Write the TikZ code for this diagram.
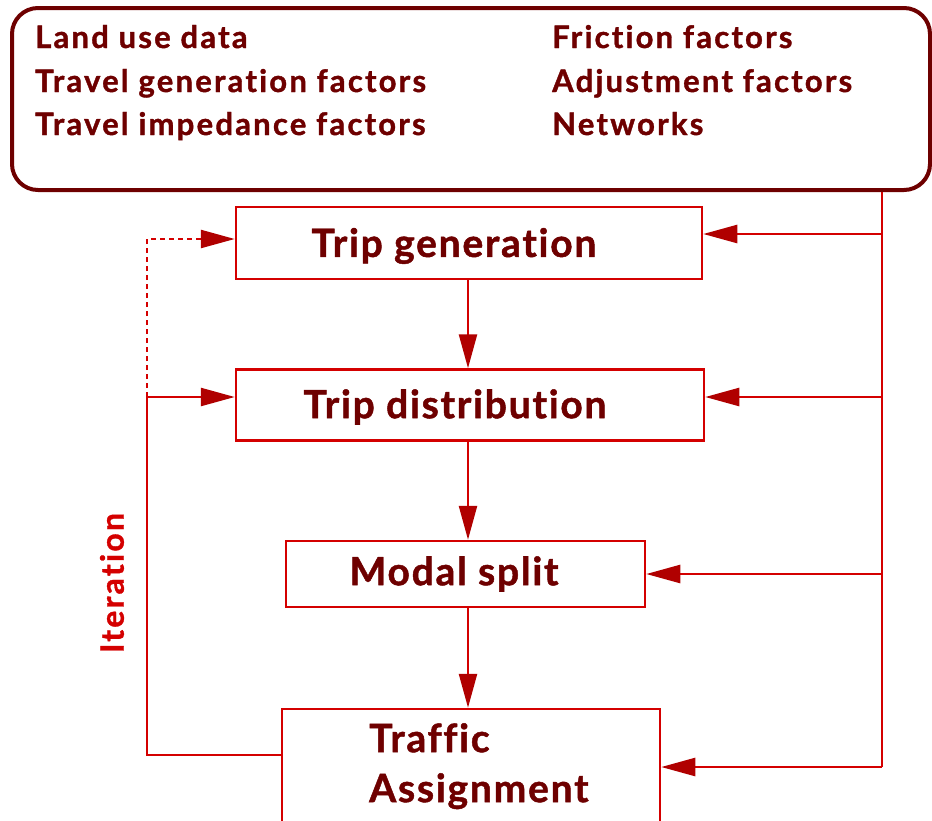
\documentclass[tikz,border=0pt]{standalone}
\usepackage{fontspec}
\setmainfont{Lato}
\newfontfamily\panelfont{Lato}[LetterSpace=7.2, Ligatures=NoCommon, BoldFeatures={FakeBold=1.2}]
\newfontfamily\stagefont{Lato}[LetterSpace=4.5, Ligatures=NoCommon, BoldFeatures={FakeBold=1.2}]
\newfontfamily\loopfont{Lato}[LetterSpace=7, Ligatures=NoCommon, BoldFeatures={FakeBold=1}]
\usetikzlibrary{arrows.meta,calc}

\definecolor{maroon}{HTML}{6E0000}
\definecolor{linered}{HTML}{D40000}
\definecolor{tipred}{HTML}{B00000}

\tikzset{
  infobox/.style={draw=maroon, line width=4pt, rounded corners=26pt, inner sep=0pt},
  stagebox/.style={draw=linered, line width=2.5pt, inner sep=0pt},
  flow/.style={draw=linered, line width=2.5pt},
  flowarrow/.style={flow, -{Triangle[length=34pt,width=18pt,fill=tipred,color=tipred]}},
  inputtext/.style={text=maroon, font=\panelfont\bfseries\fontsize{31}{36}\selectfont, anchor=base west, inner sep=0pt},
  stagetext/.style={text=maroon, font=\stagefont\bfseries\fontsize{39}{50}\selectfont, inner sep=0pt},
}

\begin{document}
\begin{tikzpicture}[x=1pt,y=-1pt]
\useasboundingbox (0,0) rectangle (932,820);

% input data panel
\node[infobox, minimum width=918pt, minimum height=182pt] (inputs) at (471,99) {};
\node[inputtext] (t1) at (35,48) {Land use data};
\node[inputtext] (t2) at (35,92) {Travel generation factors};
\node[inputtext] (t3) at (35,135) {Travel impedance factors};
\node[inputtext] (t4) at (552,48) {Friction factors};
\node[inputtext] (t5) at (552,92) {Adjustment factors};
\node[inputtext] (t6) at (552,135) {Networks};

% model stages
\node[stagebox, minimum width=466pt, minimum height=72pt] (tg) at (469,243) {};
\node[stagetext] (tgl) at (454,246) {Trip generation};
\node[stagebox, minimum width=468pt, minimum height=71pt] (td) at (470,405) {};
\node[stagetext] (tdl) at (455,407) {Trip distribution};
\node[stagebox, minimum width=359pt, minimum height=66pt] (ms) at (465.5,574) {};
\node[stagetext] (msl) at (454,574) {Modal split};
\node[stagebox, minimum width=378pt, minimum height=140pt] (ta) at (471,779) {};
\node[stagetext, align=left, anchor=north west] (tal) at (369,723) {Traffic\\Assignment};

% sequential flow
\draw[flowarrow] (tg.south -| 468,0) -- (td.north -| 468,0);
\draw[flowarrow] (td.south -| 468,0) -- (ms.north -| 468,0);
\draw[flowarrow] (ms.south -| 468,0) -- (ta.north -| 468,0);

% input data bus on the right
\coordinate (bustop) at (inputs.south -| 882,0);
\coordinate (busend) at (882,767);
\draw[flow] (bustop) -- (busend);
\draw[flowarrow] (882,234) -- (tg.east |- 0,234);
\draw[flowarrow] (882,397) -- (td.east |- 0,397);
\draw[flowarrow] (ms.east -| bustop) -- (ms.east);
\draw[flowarrow] (busend) -- (ta.east |- busend);

% iteration loop
\coordinate (loopbot) at (147,755);
\coordinate (loopmid) at (147,397);
\coordinate (looptop) at (147,239);
\draw[flow] (ta.west |- loopbot) -- (loopbot) -- (loopmid);
\draw[flowarrow] (loopmid) -- (td.west |- loopmid);
\draw[flow, line width=2.2pt, dash pattern=on 5pt off 4pt] (loopmid) -- (looptop) -- ($(looptop)+(50,0)$);
\draw[flowarrow] ($(looptop)+(50,0)$) -- (tg.west |- looptop);
\node[text=linered, font=\loopfont\bfseries\fontsize{32}{36}\selectfont, rotate=90, inner sep=0pt] (iter) at (112,583) {Iteration};
\end{tikzpicture}
\end{document}
